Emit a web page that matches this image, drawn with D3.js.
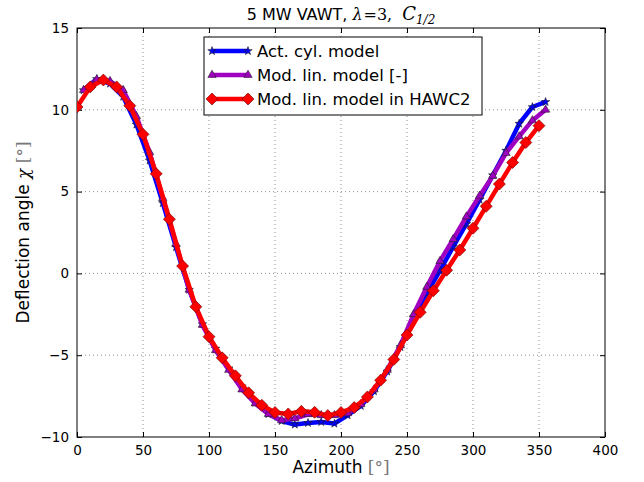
<!DOCTYPE html>
<html>
<head>
<meta charset="utf-8">
<script src="https://cdn.jsdelivr.net/npm/d3@7"></script>
<style>
  body { margin: 0; background: #fff; }
  text { font-family: "DejaVu Sans", sans-serif; }
</style>
</head>
<body>
<div id="chart"></div>
<script>
// data
var redAz = [0,10,20,30,40,50,60,70,80,90,100,110,120,130,140,150,160,170,180,190,
             200,210,220,230,240,250,260,270,280,290,300,310,320,330,340,350];
var redVal = [10.17,11.4,11.82,11.4,10.25,8.5,6.09,3.31,0.45,-2.04,-3.87,-5.16,-6.26,-7.3,-8.06,-8.5,-8.59,-8.43,-8.49,-8.69,
              -8.5,-8.2,-7.55,-6.53,-5.26,-3.77,-2.38,-1.06,0.19,1.43,2.76,4.1,5.46,6.78,8.0,9.03];

var cylAz = [5,15,25,35,45,55,65,75,85,95,105,115,125,135,145,155,165,175,185,195,
             205,215,225,235,245,255,265,275,285,295,305,315,325,335,345,355];
var cylVal = [11.2,11.88,11.6,10.8,9.1,6.9,4.3,1.6,-1.0,-3.1,-4.6,-5.8,-6.9,-7.9,-8.6,-9.02,-9.24,-9.14,-9.08,-9.18,
              -8.67,-8.1,-7.2,-6.0,-4.5,-2.7,-1.22,0.17,1.63,3.02,4.5,6.0,7.5,9.15,10.17,10.48];

var linAz = cylAz;
var linVal = [11.2,11.85,11.75,11.2,9.6,7.4,4.6,1.8,-1.0,-3.15,-4.7,-5.9,-7.1,-7.95,-8.6,-8.98,-8.87,-8.61,-8.67,-8.67,
              -8.55,-8.0,-7.1,-5.9,-4.4,-2.5,-0.83,0.75,2.09,3.47,4.74,5.96,7.35,8.37,9.35,10.0];

var xTicks = [0,50,100,150,200,250,300,350,400];
var yTicks = [-10,-5,0,5,10,15];

var W = 644, H = 482;
var margin = {top: 28, right: 39, bottom: 45, left: 77},
  width = W - margin.left - margin.right,
  height = H - margin.top - margin.bottom;

var svg = d3.select("#chart").append("svg")
  .attr("width", W).attr("height", H);

var g = svg.append("g")
  .attr("transform", "translate(" + margin.left + "," + margin.top + ")");

var x = d3.scaleLinear().domain([0, 400]).range([0, width]);
var y = d3.scaleLinear().domain([-10, 15]).range([height, 0]);

// grid
g.selectAll(".gx").data(xTicks.slice(1, -1)).enter().append("line")
  .attr("x1", d => x(d)).attr("x2", d => x(d))
  .attr("y1", 0).attr("y2", height)
  .attr("stroke", "#444").attr("stroke-width", 0.6)
  .attr("stroke-dasharray", "1,3");
g.selectAll(".gy").data(yTicks.slice(1, -1)).enter().append("line")
  .attr("y1", d => y(d)).attr("y2", d => y(d))
  .attr("x1", 0).attr("x2", width)
  .attr("stroke", "#444").attr("stroke-width", 0.6)
  .attr("stroke-dasharray", "1,3");

// axes, ticks pointing inward
var xAxis = g.append("g")
  .attr("transform", "translate(0," + height + ")")
  .call(d3.axisBottom(x).tickValues(xTicks).tickSize(-5).tickPadding(8));
var xTop = g.append("g")
  .call(d3.axisTop(x).tickValues(xTicks).tickSize(-5).tickFormat(""));
var yAxis = g.append("g")
  .call(d3.axisLeft(y).tickValues(yTicks).tickSize(-5).tickPadding(8));
var yRight = g.append("g")
  .attr("transform", "translate(" + width + ",0)")
  .call(d3.axisRight(y).tickValues(yTicks).tickSize(-5).tickFormat(""));

[xAxis, xTop, yAxis, yRight].forEach(function(a) {
  a.select(".domain").remove();
  a.selectAll("text").style("font-size", "13.5px").attr("fill", "#000")
    .style("font-family", "'DejaVu Sans', sans-serif");
});

g.append("rect")
  .attr("width", width).attr("height", height)
  .attr("fill", "none").attr("stroke", "#000").attr("stroke-width", 1);

var line = d3.line().x(d => x(d[0])).y(d => y(d[1]));

var series = [
  {name: "Act. cyl. model", az: cylAz, val: cylVal, color: "#0000ff", marker: "star"},
  {name: "Mod. lin. model [-]", az: linAz, val: linVal, color: "#a000c0", marker: "tri"},
  {name: "Mod. lin. model in HAWC2", az: redAz, val: redVal, color: "#ff0000", marker: "diamond"}
];

function markerPath(type) {
  if (type == "star") return d3.symbol().type(d3.symbolStar).size(22)();
  if (type == "tri") return d3.symbol().type(d3.symbolTriangle).size(30)();
  return "M0,-6L6,0L0,6L-6,0Z";
}

svg.append("clipPath").attr("id", "clip")
  .append("rect").attr("width", width).attr("height", height);

var plot = g.append("g").attr("clip-path", "url(#clip)");

series.forEach(function(s) {
  var pts = s.az.map((a, i) => [a, s.val[i]]);
  plot.append("path")
    .datum(pts)
    .attr("d", line)
    .attr("fill", "none")
    .attr("stroke", s.color)
    .attr("stroke-width", 4.5)
    .attr("stroke-linejoin", "round");
  plot.selectAll(null).data(pts).enter().append("path")
    .attr("d", markerPath(s.marker))
    .attr("transform", d => "translate(" + x(d[0]) + "," + y(d[1]) + ")")
    .attr("fill", s.color)
    .attr("stroke", s.marker == "diamond" ? "#600" : "#222")
    .attr("stroke-width", 0.6);
});

// legend
var leg = g.append("g").attr("transform", "translate(127,9)");
leg.append("rect")
  .attr("width", 278).attr("height", 78)
  .attr("fill", "#fff").attr("stroke", "#000").attr("stroke-width", 1);
series.forEach(function(s, i) {
  var ly = 14 + i * 24;
  leg.append("line")
    .attr("x1", 8).attr("x2", 44).attr("y1", ly).attr("y2", ly)
    .attr("stroke", s.color).attr("stroke-width", 4.5);
  [8, 44].forEach(function(mx) {
    leg.append("path")
      .attr("d", markerPath(s.marker))
      .attr("transform", "translate(" + mx + "," + ly + ")")
      .attr("fill", s.color)
      .attr("stroke", s.marker == "diamond" ? "#600" : "#222")
      .attr("stroke-width", 0.6);
  });
  leg.append("text")
    .attr("x", 53).attr("y", ly + 6)
    .style("font-size", "16.5px")
    .text(s.name);
});

// title
var title = svg.append("text")
  .attr("x", margin.left + width / 2).attr("y", 20)
  .attr("text-anchor", "middle")
  .style("font-size", "16px");
title.append("tspan").text("5 MW VAWT,");
title.append("tspan").attr("dx", 5).style("font-family", "'DejaVu Serif', serif").style("font-style", "italic").text("λ");
title.append("tspan").attr("dx", 1).style("font-family", "'DejaVu Serif', serif").text("=3,");
title.append("tspan").attr("dx", 10).style("font-family", "'DejaVu Serif', serif").style("font-style", "italic")
  .style("font-size", "18px").text("C");
title.append("tspan").attr("dy", 4).style("font-size", "12px")
  .style("font-family", "'DejaVu Serif', serif").style("font-style", "italic").text("1/2");

// axis labels
var xl = svg.append("text")
  .attr("x", margin.left + width / 2).attr("y", 473)
  .attr("text-anchor", "middle")
  .style("font-size", "17px");
xl.append("tspan").text("Azimuth ");
xl.append("tspan").attr("fill", "#777").style("font-family", "'DejaVu Serif', serif").text("[°]");

var yl = svg.append("text")
  .attr("transform", "translate(29," + (margin.top + height / 2) + ") rotate(-90)")
  .attr("text-anchor", "middle")
  .style("font-size", "17px");
yl.append("tspan").text("Deflection angle ");
yl.append("tspan").style("font-family", "'DejaVu Serif', serif").style("font-style", "italic").text("χ");
yl.append("tspan").attr("fill", "#777").style("font-family", "'DejaVu Serif', serif").text(" [°]");
</script>
</body>
</html>
